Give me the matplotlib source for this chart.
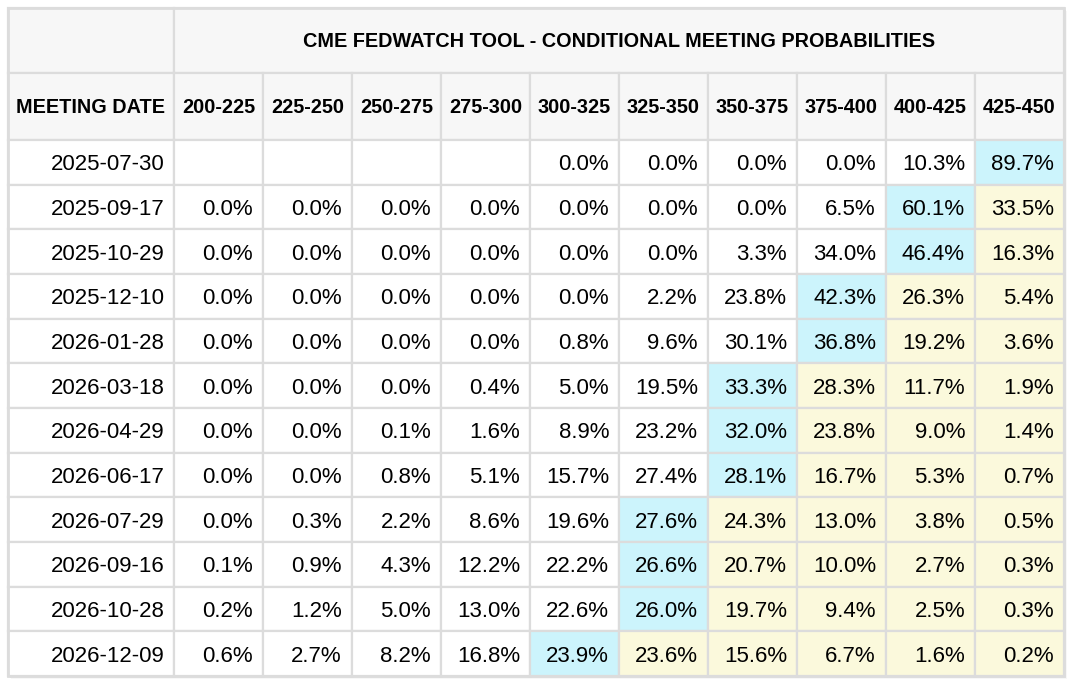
import matplotlib
matplotlib.use("Agg")
from matplotlib import pyplot as plt
from matplotlib.patches import Rectangle

plt.rcParams['font.family'] = ['Liberation Sans', 'DejaVu Sans']

title = "CME FEDWATCH TOOL - CONDITIONAL MEETING PROBABILITIES"
first_header = "MEETING DATE"
ranges = ["200-225", "225-250", "250-275", "275-300", "300-325",
          "325-350", "350-375", "375-400", "400-425", "425-450"]
dates = ["2025-07-30", "2025-09-17", "2025-10-29", "2025-12-10",
         "2026-01-28", "2026-03-18", "2026-04-29", "2026-06-17",
         "2026-07-29", "2026-09-16", "2026-10-28", "2026-12-09"]
probs = [
    [None, None, None, None, 0.0, 0.0, 0.0, 0.0, 10.3, 89.7],
    [0.0, 0.0, 0.0, 0.0, 0.0, 0.0, 0.0, 6.5, 60.1, 33.5],
    [0.0, 0.0, 0.0, 0.0, 0.0, 0.0, 3.3, 34.0, 46.4, 16.3],
    [0.0, 0.0, 0.0, 0.0, 0.0, 2.2, 23.8, 42.3, 26.3, 5.4],
    [0.0, 0.0, 0.0, 0.0, 0.8, 9.6, 30.1, 36.8, 19.2, 3.6],
    [0.0, 0.0, 0.0, 0.4, 5.0, 19.5, 33.3, 28.3, 11.7, 1.9],
    [0.0, 0.0, 0.1, 1.6, 8.9, 23.2, 32.0, 23.8, 9.0, 1.4],
    [0.0, 0.0, 0.8, 5.1, 15.7, 27.4, 28.1, 16.7, 5.3, 0.7],
    [0.0, 0.3, 2.2, 8.6, 19.6, 27.6, 24.3, 13.0, 3.8, 0.5],
    [0.1, 0.9, 4.3, 12.2, 22.2, 26.6, 20.7, 10.0, 2.7, 0.3],
    [0.2, 1.2, 5.0, 13.0, 22.6, 26.0, 19.7, 9.4, 2.5, 0.3],
    [0.6, 2.7, 8.2, 16.8, 23.9, 23.6, 15.6, 6.7, 1.6, 0.2],
]

# layout (pixels)
W, H = 1076, 690
left, top = 8, 8
date_w, col_w = 166, 89
title_h, head_h, row_h = 65, 67, 44.67
grid_c = "#dcdcdc"
head_bg = "#f7f7f7"
blue = "#ccf4fc"
yellow = "#fbf9dc"
head_fs, body_fs = 14.3, 16

fig = plt.figure(figsize=(W / 100, H / 100), dpi=100)
ax = fig.add_axes([0, 0, 1, 1])
ax.set_xlim(0, W)
ax.set_ylim(H, 0)
ax.axis("off")

right = left + date_w + col_w * len(ranges)
bottom = top + title_h + head_h + row_h * len(dates)

# drop shadow
for i, a in enumerate([0.10, 0.06, 0.03]):
    ax.add_patch(Rectangle((left + 1 + i, top + 1 + i), right - left, bottom - top,
                           facecolor="black", alpha=a, edgecolor="none", zorder=0))
ax.add_patch(Rectangle((left, top), right - left, bottom - top,
                       facecolor="white", edgecolor="none", zorder=1))


def cell(x, y, w, h, color):
    ax.add_patch(Rectangle((x, y), w, h, facecolor=color, edgecolor=grid_c,
                           linewidth=1.6, zorder=2))


# title row
cell(left, top, date_w, title_h, head_bg)
cell(left + date_w, top, col_w * len(ranges), title_h, head_bg)
ax.text(left + date_w + col_w * len(ranges) / 2, top + title_h / 2 + 1, title,
        ha="center", va="center", fontsize=head_fs, fontweight="bold", zorder=3)

# header row
y0 = top + title_h
cell(left, y0, date_w, head_h, head_bg)
ax.text(left + date_w / 2, y0 + head_h / 2 + 1, first_header, ha="center",
        va="center", fontsize=head_fs, fontweight="bold", zorder=3)
for j, r in enumerate(ranges):
    x = left + date_w + j * col_w
    cell(x, y0, col_w, head_h, head_bg)
    ax.text(x + col_w / 2, y0 + head_h / 2 + 1, r, ha="center", va="center",
            fontsize=head_fs, fontweight="bold", zorder=3)

# body
y0 = top + title_h + head_h
for i, d in enumerate(dates):
    y = y0 + i * row_h
    cell(left, y, date_w, row_h, "white")
    ax.text(left + date_w - 9, y + row_h / 2 + 2.5, d, ha="right", va="center",
            fontsize=body_fs, zorder=3)
    vals = probs[i]
    best = max(range(len(vals)), key=lambda k: -1 if vals[k] is None else vals[k])
    for j, v in enumerate(vals):
        x = left + date_w + j * col_w
        if j == best:
            c = blue
        elif j > best:
            c = yellow
        else:
            c = "white"
        cell(x, y, col_w, row_h, c)
        if v is not None:
            ax.text(x + col_w - 10, y + row_h / 2 + 2.5, f"{v:.1f}%", ha="right",
                    va="center", fontsize=body_fs, zorder=3)

# outer border
ax.add_patch(Rectangle((left, top), right - left, bottom - top, facecolor="none",
                       edgecolor=grid_c, linewidth=2, zorder=4))

fig.savefig("out.png", dpi=100)
